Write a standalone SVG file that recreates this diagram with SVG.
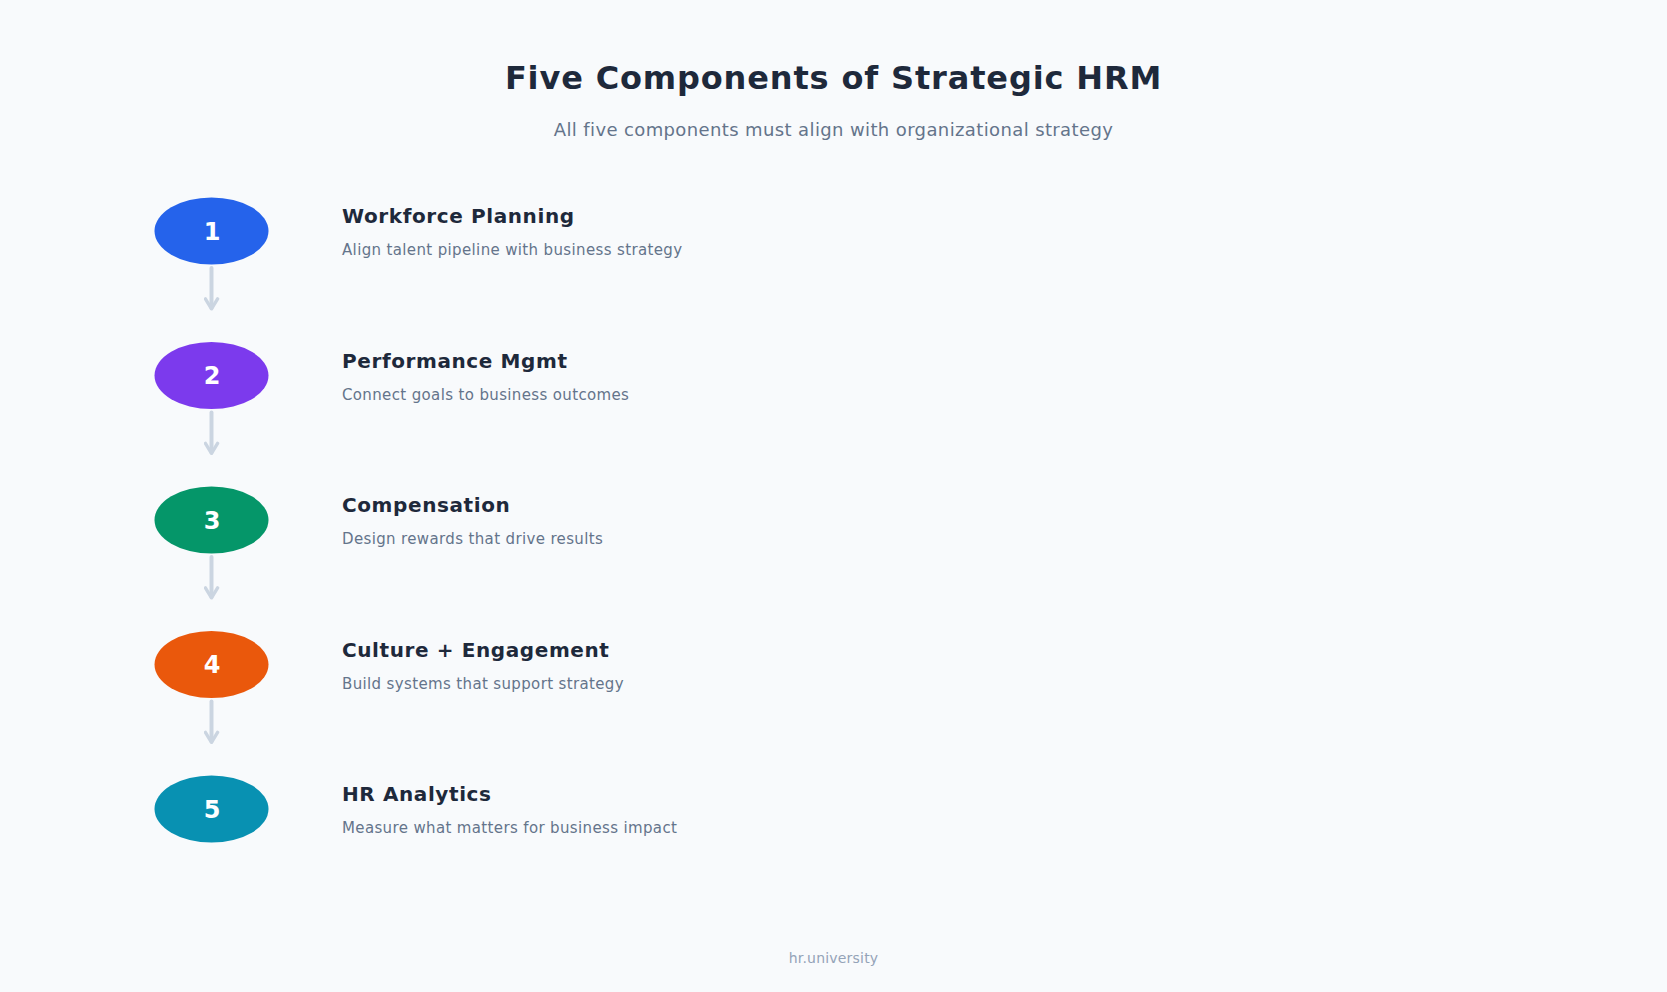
<svg xmlns="http://www.w3.org/2000/svg" width="1667" height="992" viewBox="0 0 1667 992">
<style>
.title{font-family:"DejaVu Sans",sans-serif;font-weight:bold;font-size:32px;letter-spacing:0.85px;fill:#1e293b}
.sub{font-family:"DejaVu Sans",sans-serif;font-size:18px;letter-spacing:0.38px;fill:#64748b}
.num{font-family:"DejaVu Sans",sans-serif;font-weight:bold;font-size:24px;fill:#ffffff}
.lbl{font-family:"DejaVu Sans",sans-serif;font-weight:bold;font-size:20px;letter-spacing:0.6px;fill:#1e293b}
.desc{font-family:"DejaVu Sans",sans-serif;font-size:15px;letter-spacing:0.36px;fill:#64748b}
.foot{font-family:"DejaVu Sans",sans-serif;font-size:14px;letter-spacing:0.2px;fill:#94a3b8}
.conn{stroke:#cbd5e1;stroke-width:4;stroke-linecap:round;fill:none}
</style>
<defs>
<marker id="ah" viewBox="0 0 10 10" refX="7.5" refY="5" markerWidth="16" markerHeight="16" markerUnits="userSpaceOnUse" orient="auto">
<path d="M1.8,1.2 L8,5 L1.8,8.8" fill="none" stroke="#cbd5e1" stroke-width="2.1" stroke-linecap="round" stroke-linejoin="round"/>
</marker>
</defs>
<rect width="1667" height="992" fill="#f8fafc"/>
<text class="title" x="833.5" y="89" text-anchor="middle">Five Components of Strategic HRM</text>
<text class="sub" x="833.5" y="136" text-anchor="middle">All five components must align with organizational strategy</text>
<g id="connectors">
<line class="conn" x1="211.5" y1="268" x2="211.5" y2="308" marker-end="url(#ah)"/>
<line class="conn" x1="211.5" y1="412.5" x2="211.5" y2="452.5" marker-end="url(#ah)"/>
<line class="conn" x1="211.5" y1="557" x2="211.5" y2="597" marker-end="url(#ah)"/>
<line class="conn" x1="211.5" y1="701.5" x2="211.5" y2="741.5" marker-end="url(#ah)"/>
</g>
<g id="node1">
<ellipse cx="211.5" cy="231" rx="57" ry="33.5" fill="#2563eb"/>
<text class="num" x="212" y="239.5" text-anchor="middle">1</text>
<text class="lbl" x="342" y="223">Workforce Planning</text>
<text class="desc" x="342" y="255">Align talent pipeline with business strategy</text>
</g>
<g id="node2">
<ellipse cx="211.5" cy="375.5" rx="57" ry="33.5" fill="#7c3aed"/>
<text class="num" x="212" y="384" text-anchor="middle">2</text>
<text class="lbl" x="342" y="367.5">Performance Mgmt</text>
<text class="desc" x="342" y="399.5">Connect goals to business outcomes</text>
</g>
<g id="node3">
<ellipse cx="211.5" cy="520" rx="57" ry="33.5" fill="#059669"/>
<text class="num" x="212" y="528.5" text-anchor="middle">3</text>
<text class="lbl" x="342" y="512">Compensation</text>
<text class="desc" x="342" y="544">Design rewards that drive results</text>
</g>
<g id="node4">
<ellipse cx="211.5" cy="664.5" rx="57" ry="33.5" fill="#ea580c"/>
<text class="num" x="212" y="673" text-anchor="middle">4</text>
<text class="lbl" x="342" y="656.5">Culture + Engagement</text>
<text class="desc" x="342" y="688.5">Build systems that support strategy</text>
</g>
<g id="node5">
<ellipse cx="211.5" cy="809" rx="57" ry="33.5" fill="#0891b2"/>
<text class="num" x="212" y="817.5" text-anchor="middle">5</text>
<text class="lbl" x="342" y="801">HR Analytics</text>
<text class="desc" x="342" y="833">Measure what matters for business impact</text>
</g>
<text class="foot" x="833.5" y="963" text-anchor="middle">hr.university</text>
</svg>
